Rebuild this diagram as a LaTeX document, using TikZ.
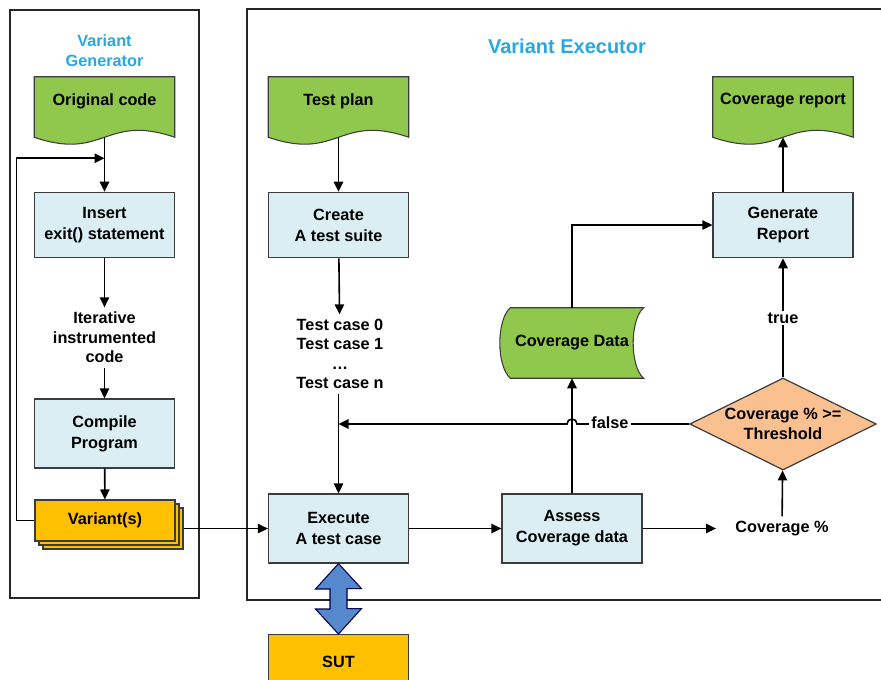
\documentclass[tikz,border=0pt]{standalone}
\usepackage{fontspec}
\setmainfont{Liberation Sans}
\usetikzlibrary{arrows.meta, positioning, shapes.geometric, calc, shadows, backgrounds}

\definecolor{docgreen}{RGB}{143,200,76}
\definecolor{boxblue}{RGB}{218,238,243}
\definecolor{edgegray}{RGB}{60,60,60}
\definecolor{variantorange}{RGB}{255,192,0}
\definecolor{decisionpeach}{RGB}{250,192,144}
\definecolor{linkblue}{RGB}{86,136,206}
\definecolor{titleblue}{RGB}{41,168,224}

\begin{document}
\begin{tikzpicture}[
    x=0.75pt, y=-0.75pt,
    font=\fontsize{12.2}{14.6}\selectfont\bfseries,
    stepbox/.style={draw=edgegray, line width=0.9pt, fill=boxblue, align=center,
        minimum width=105pt, minimum height=49pt, font=\fontsize{12.2}{15.75}\selectfont\bfseries},
    docbox/.style={align=center, minimum width=105pt, minimum height=36pt},
    docline/.style={draw=edgegray, line width=0.8pt, fill=docgreen},
    variantbox/.style={draw=edgegray, line width=0.8pt, fill=variantorange,
        minimum width=105pt, minimum height=30.75pt,
        double copy shadow={shadow xshift=3pt, shadow yshift=-3pt}},
    decision/.style={diamond, draw=edgegray, line width=0.9pt, fill=decisionpeach, aspect=2.03,
        inner xsep=-4pt, inner ysep=0pt, minimum width=140pt, minimum height=69pt, align=center},
    plain/.style={align=center},
    lbl/.style={fill=white, inner sep=1.5pt},
    title/.style={text=titleblue, align=center},
    frame/.style={draw=black!85, line width=1.7pt},
    arr/.style={-{Triangle[length=7.5pt, width=7pt]}, line width=1.2pt},
    bidir/.style={draw=black!70!blue, line width=0.8pt, fill=linkblue}
]
\clip (0,0) rectangle (881,679);

% the two frames
\draw[frame] (10,10) rectangle (199,598);
\draw[frame] (247,9) rectangle (900,600);
\node[title] (gentitle) at (104.5,50.5) {Variant\\Generator};
\node[title, font=\fontsize{15}{18}\selectfont\bfseries] (exectitle) at (567,46) {Variant Executor};

% variant generator
\node[docbox] (orig) at (104.5,101) {Original code};
\node[stepbox] (insert) at (104.5,225) {Insert\\exit() statement};
\node[plain] (iter) at (104.5,337.5) {Iterative\\instrumented\\code};
\node[stepbox, minimum height=51.75pt] (compile) at (104.5,433.5) {Compile\\Program};
\node[variantbox] (variants) at (105,520.5) {Variant(s)};
\coordinate (merge) at ($(orig.south)+(0,33)$);

% variant executor
\node[docbox] (plan) at (338.5,101) {Test plan};
\node[stepbox] (create) at (338.5,225) {Create\\A test suite};
\node[plain] (cases) at (340,354) {Test case 0\\Test case 1\\\dots\\Test case n};
\node[stepbox, minimum height=51.75pt] (exec) at (338.5,528.5) {Execute\\A test case};
\node[draw=edgegray, line width=0.8pt, fill=variantorange, minimum width=105pt,
    text height=21pt, text depth=26pt, inner ysep=4pt, anchor=north] (sut) at (338.5,634) {SUT};
\node[stepbox, minimum height=51.75pt] (assess) at (572,528.5) {Assess\\Coverage data};
\node[plain, minimum height=52.5pt, minimum width=90pt] (cov) at (572,343) {Coverage Data};
\node[plain] (pct) at (782,528.5) {Coverage \%};
\node[decision] (diam) at (783,424) {Coverage \% >=\\Threshold};
\node[stepbox] (gen) at (783,225) {Generate\\Report};
\node[docbox] (report) at (783,101) {Coverage report};

% document and stored-data outlines behind their text
\begin{pgfonlayer}{background}
\foreach \d in {orig, plan, report}
    \path[docline] (\d.north west) -- ($(\d.south west)+(0,12)$)
        .. controls +(70,24) and +(-70,-24) .. ($(\d.south east)+(0,12)$)
        -- (\d.north east) -- cycle;
\path[docline] (cov.north west) .. controls +(-14,12) and +(-14,-12) .. (cov.south west)
    -- ($(cov.south east)+(10,0)$) .. controls +(-14,-12) and +(-14,12) .. ($(cov.north east)+(10,0)$)
    -- cycle;
\end{pgfonlayer}

% connectors
\draw[arr] ($(orig.south)+(0,12)$) -- (insert.north);
\draw[arr] (variants.west) -- ++(-18,0) |- (merge);
\draw[arr] (insert) -- (iter);
\draw[arr] (iter) -- (compile);
\draw[arr] (compile) -- (variants);
\draw[arr] ($(variants.east |- exec.west)+(8,0)$) -- (exec.west);

\draw[arr] ($(plan.south)+(0,12)$) -- (create.north);
\draw[arr] (create) -- (cases);
\draw[arr] (cases.south -| exec.north) -- (exec.north);
\draw[arr] (exec) -- (assess);
\draw[arr, shorten >=11pt] (assess.east) -- (pct.west);
\draw[arr] (pct) -- (diam);
\draw[arr] (assess) -- (cov);
\draw[arr] (cov.north) |- (gen.west);
\draw[arr] (diam.north) -- (gen.south);
\draw[arr] (gen.north) -- ($(report.south)+(0,12)$);
\draw[arr] (diam.west) -- ($(cov.south |- diam.west)+(5,0)$)
    arc[start angle=0, end angle=180, radius=3.75pt] -- (exec.north |- diam.west);
\node[lbl] (falselbl) at (610,423) {false};
\node[lbl] (truelbl) at (783,318) {true};

% link to the system under test
\draw[bidir] (exec.south) -- ++(23,25) -- ++(-14.5,0) -- ++(0,20) -- ++(14.5,0)
    -- (sut.north) -- ++(-23,-25) -- ++(14.5,0) -- ++(0,-20) -- ++(-14.5,0) -- cycle;
\end{tikzpicture}
\end{document}
